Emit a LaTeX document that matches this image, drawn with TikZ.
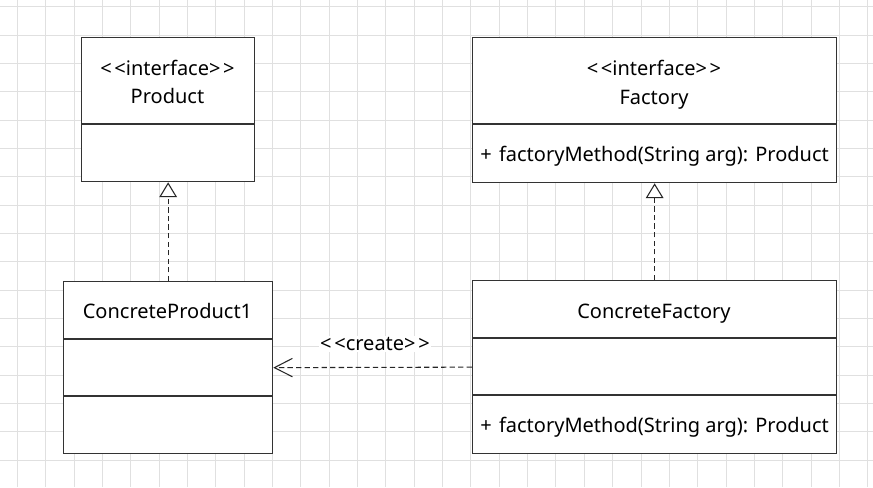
\documentclass[tikz,border=0pt]{standalone}
\usepackage{fontspec}
\setmainfont{Noto Sans}
\usetikzlibrary{arrows.meta,calc}
\begin{document}
\begin{tikzpicture}[x=0.75pt,y=-0.75pt,
  gridline/.style={draw=black!12, line width=0.75pt},
  box/.style={draw=black!80, line width=0.95pt, fill=white, inner sep=0pt, anchor=north west},
  div/.style={draw=black!80, line width=0.95pt},
  lbl/.style={font=\fontsize{15}{18}\selectfont, inner sep=0pt, anchor=base},
  mlbl/.style={lbl, anchor=base west},
  conn/.style={draw=black!85, line width=0.8pt, dash pattern=on 4pt off 2.4pt}]
\useasboundingbox (0,0) rectangle (873,487);
\fill[white] (0,0) rectangle (873,487);
\foreach \i in {0,...,30} \draw[gridline] ({17.3+28.35*\i},0) -- ++(0,487);
\foreach \j in {0,...,17} \draw[gridline] (0,{6.7+28.35*\j}) -- ++(873,0);
% boxes
\node[box, minimum width=173*0.75pt, minimum height=144*0.75pt] (product) at (81,37) {};
\node[box, minimum width=364*0.75pt, minimum height=145*0.75pt] (factory) at (472,37) {};
\node[box, minimum width=209*0.75pt, minimum height=172*0.75pt] (cp) at (63,281) {};
\node[box, minimum width=364*0.75pt, minimum height=173*0.75pt] (cf) at (472,280) {};
% dividers
\draw[div] ($(product.north west)+(0,87)$) -- ($(product.north east)+(0,87)$);
\draw[div] ($(factory.north west)+(0,87)$) -- ($(factory.north east)+(0,87)$);
\draw[div] ($(cp.north west)+(0,58)$) -- ($(cp.north east)+(0,58)$);
\draw[div] ($(cp.north west)+(0,115)$) -- ($(cp.north east)+(0,115)$);
\draw[div] ($(cf.north west)+(0,58)$) -- ($(cf.north east)+(0,58)$);
\draw[div] ($(cf.north west)+(0,115)$) -- ($(cf.north east)+(0,115)$);
% texts
\node[lbl] (pst) at (167.5,75) {{<}\kern2pt{<}interface{>}\kern2pt{>}};
\node[lbl] (pname) at (167.5,103.3) {Product};
\node[lbl] (fst) at (654,75) {{<}\kern2pt{<}interface{>}\kern2pt{>}};
\node[lbl] (fname) at (654,104) {Factory};
\node[mlbl] (fm) at (480,161.7) {+\hspace{5.5pt}factoryMethod(String arg): Product};
\node[lbl] (cpname) at (167.5,318.3) {ConcreteProduct1};
\node[lbl] (cfname) at (654,318.3) {ConcreteFactory};
\node[mlbl] (cfm) at (480,432.7) {+\hspace{5.5pt}factoryMethod(String arg): Product};
% connectors
\draw[conn, -{Triangle[open, length=11.2pt, width=13.3pt]}] (cp.north) -- (product.south);
\draw[conn, -{Triangle[open, length=11.2pt, width=13.3pt]}] (cf.north) -- (factory.south);
\draw[conn, -{Straight Barb[length=13.5pt, width=13.8pt]}] (cf.west) -- (cp.east);
\node[lbl, fill=white, inner sep=1pt] (create) at (375,350.7) {{<}\kern2pt{<}create{>}\kern2pt{>}};
\end{tikzpicture}
\end{document}
